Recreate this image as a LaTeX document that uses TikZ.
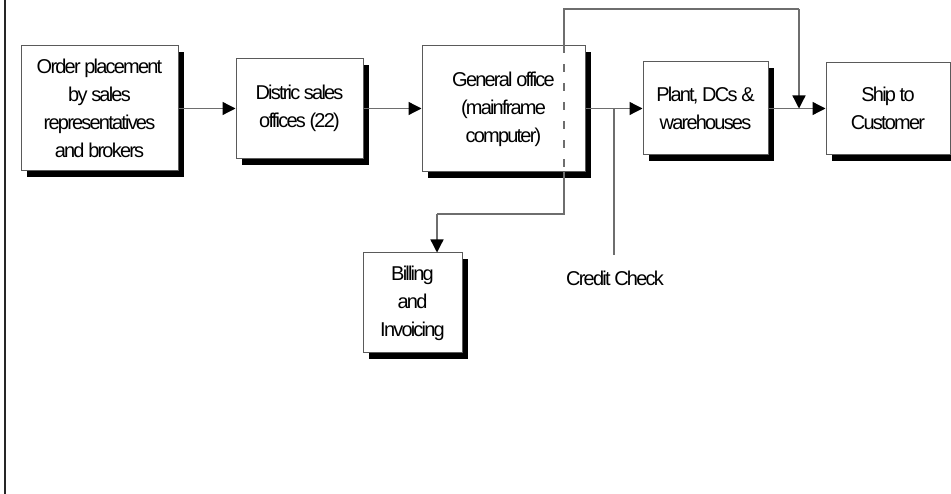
\documentclass[tikz,border=0pt]{standalone}
\usepackage{fontspec}
\setmainfont{Liberation Sans}[LetterSpace=-9]
\usetikzlibrary{arrows.meta,shadows}
\definecolor{linegray}{HTML}{6E6E6E}
\definecolor{boxgray}{HTML}{5A5A5A}
\begin{document}
\begin{tikzpicture}[x=1pt,y=-1pt,
  stepbox/.style={draw=boxgray,line width=1pt,fill=white,align=center,
    inner sep=0pt,font=\fontsize{20}{28}\selectfont,
    drop shadow={shadow xshift=6pt,shadow yshift=-6.5pt,fill=black,opacity=1}},
  conn/.style={draw=linegray,line width=1.3pt},
  arr/.style={conn,-{Triangle[length=13pt,width=13pt,color=black]}},
  lbl/.style={font=\fontsize{20}{28}\selectfont,inner sep=0pt}]
\useasboundingbox (0,0) rectangle (951,494);
\fill[white] (0,0) rectangle (951,494);
% left border
\coordinate (lb1) at (5,0);
\coordinate (lb2) at (5,494);
\draw[line width=2pt,black!85] (lb1) -- (lb2);
% boxes
\node[stepbox,minimum width=157pt,minimum height=125pt] (n1) at (99.5,108.5)
  {Order placement\\by sales\\representatives\\and brokers};
\node[stepbox,minimum width=127pt,minimum height=100pt] (n2) at (299.5,108.5)
  {Distric sales\\offices (22)};
\node[stepbox,minimum width=163pt,minimum height=126pt] (n3) at (503.5,109)
  {General office\\(mainframe\\computer)};
\node[stepbox,minimum width=125pt,minimum height=93pt] (n4) at (705.5,108.5)
  {Plant, DCs \&\\warehouses};
\node[stepbox,minimum width=124pt,minimum height=92pt] (n5) at (888,108.5)
  {Ship to\\Customer};
\node[stepbox,minimum width=99pt,minimum height=100pt] (n6) at (412.5,303)
  {Billing\\and\\Invoicing};
\node[lbl] (credit) at (615,278) {Credit Check};
% coordinates
\coordinate (t1) at (564,9);
\coordinate (t2) at (799,9);
\coordinate (t3) at (799,108.5);
\coordinate (b1) at (564,214);
\coordinate (bt) at (437,214);
\coordinate (cc) at (614,108.5);
% main flow
\draw[arr] (n1.east |- cc) -- (n2.west |- cc);
\draw[arr] (n2.east |- cc) -- (n3.west |- cc);
\draw[arr] (n3.east |- cc) -- (n4.west |- cc);
\draw[arr] (n4.east |- cc) -- (n5.west |- cc);
% top bypass
\draw[conn] (t1 |- n3.north) -- (t1) -- (t2);
\draw[arr] (t2) -- (t3);
\draw[conn,dash pattern=on 8pt off 11pt] (t1 |- n3.north) -- (t1 |- n3.south);
\draw[conn] (t1 |- n3.south) -- (b1) -- (bt);
\draw[arr] (bt) -- (bt |- n6.north);
% credit check
\draw[conn,shorten >=15pt] (cc) -- (cc |- credit.north);
\end{tikzpicture}
\end{document}
